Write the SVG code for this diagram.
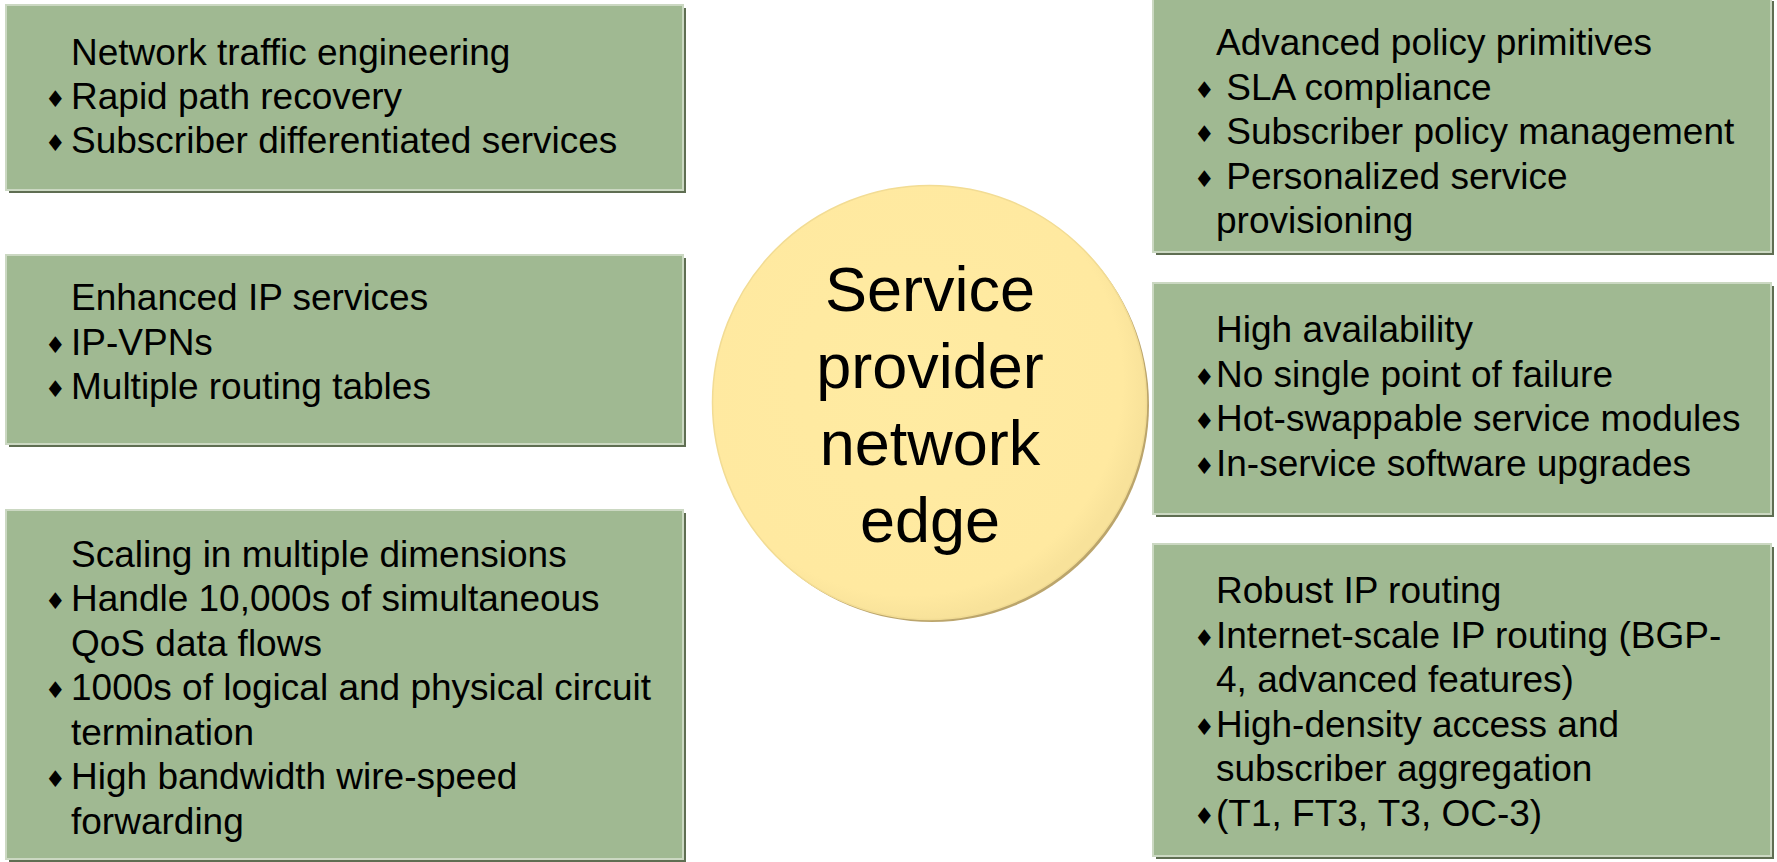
<svg xmlns="http://www.w3.org/2000/svg" width="1777" height="862" viewBox="0 0 1777 862">
<style>
.sh{fill:#5f6e52}
.bx{fill:#a0b992;stroke:#cbd8c2;stroke-width:2}
.t{font-family:"Liberation Sans",Arial,sans-serif;font-size:37px;fill:#000;white-space:pre}
.b{font-family:"DejaVu Sans",sans-serif;font-size:23px;fill:#000}
.c{font-family:"Liberation Sans",Arial,sans-serif;font-size:63px;fill:#000;text-anchor:middle}
</style>
<defs>
<radialGradient id="cg" cx="0.45" cy="0.45" r="0.55">
<stop offset="0" stop-color="#ffeba2"/>
<stop offset="0.9" stop-color="#ffe9a0"/>
<stop offset="1" stop-color="#f8e29a"/>
</radialGradient>
</defs>
<g id="connectors"></g>
<g id="center">
<circle cx="932" cy="405" r="217" fill="#bba56c"/>
<circle cx="929.5" cy="402.5" r="217" fill="url(#cg)" stroke="#f2dc94" stroke-width="1.5"/>
<text class="c" x="930" y="311">Service</text>
<text class="c" x="930" y="388">provider</text>
<text class="c" x="930" y="465">network</text>
<text class="c" x="930" y="542">edge</text>
</g>
<g id="box-tl">
<rect class="sh" x="9" y="8" width="677" height="185"/>
<rect class="bx" x="6" y="5" width="677" height="185"/>
<text class="t" x="71" y="65">Network traffic engineering</text>
<text class="b" x="45" y="107">♦</text><text class="t" x="71" y="109">Rapid path recovery</text>
<text class="b" x="45" y="151">♦</text><text class="t" x="71" y="153">Subscriber differentiated services</text>
</g>
<g id="box-ml">
<rect class="sh" x="9" y="258" width="677" height="189"/>
<rect class="bx" x="6" y="255" width="677" height="189"/>
<text class="t" x="71" y="310">Enhanced IP services</text>
<text class="b" x="45" y="353">♦</text><text class="t" x="71" y="355">IP-VPNs</text>
<text class="b" x="45" y="397">♦</text><text class="t" x="71" y="399">Multiple routing tables</text>
</g>
<g id="box-bl">
<rect class="sh" x="9" y="513" width="677" height="349"/>
<rect class="bx" x="6" y="510" width="677" height="349"/>
<text class="t" x="71" y="567">Scaling in multiple dimensions</text>
<text class="b" x="45" y="609">♦</text><text class="t" x="71" y="611">Handle 10,000s of simultaneous</text>
<text class="t" x="71" y="656">QoS data flows</text>
<text class="b" x="45" y="698">♦</text><text class="t" x="71" y="700">1000s of logical and physical circuit</text>
<text class="t" x="71" y="745">termination</text>
<text class="b" x="45" y="787">♦</text><text class="t" x="71" y="789">High bandwidth wire-speed</text>
<text class="t" x="71" y="834">forwarding</text>
</g>
<g id="box-tr">
<rect class="sh" x="1156" y="1" width="618" height="254"/>
<rect class="bx" x="1153" y="-2" width="618" height="254"/>
<text class="t" x="1216" y="55">Advanced policy primitives</text>
<text class="b" x="1194" y="98">♦</text><text class="t" x="1216" y="100" xml:space="preserve"> SLA compliance</text>
<text class="b" x="1194" y="142">♦</text><text class="t" x="1216" y="144" xml:space="preserve"> Subscriber policy management</text>
<text class="b" x="1194" y="187">♦</text><text class="t" x="1216" y="189" xml:space="preserve"> Personalized service</text>
<text class="t" x="1216" y="233">provisioning</text>
</g>
<g id="box-mr">
<rect class="sh" x="1156" y="286" width="618" height="231"/>
<rect class="bx" x="1153" y="283" width="618" height="231"/>
<text class="t" x="1216" y="342">High availability</text>
<text class="b" x="1194" y="385">♦</text><text class="t" x="1216" y="387">No single point of failure</text>
<text class="b" x="1194" y="429">♦</text><text class="t" x="1216" y="431">Hot-swappable service modules</text>
<text class="b" x="1194" y="474">♦</text><text class="t" x="1216" y="476">In-service software upgrades</text>
</g>
<g id="box-br">
<rect class="sh" x="1156" y="547" width="618" height="312"/>
<rect class="bx" x="1153" y="544" width="618" height="312"/>
<text class="t" x="1216" y="603">Robust IP routing</text>
<text class="b" x="1194" y="646">♦</text><text class="t" x="1216" y="648">Internet-scale IP routing (BGP-</text>
<text class="t" x="1216" y="692">4, advanced features)</text>
<text class="b" x="1194" y="735">♦</text><text class="t" x="1216" y="737">High-density access and</text>
<text class="t" x="1216" y="781">subscriber aggregation</text>
<text class="b" x="1194" y="824">♦</text><text class="t" x="1216" y="826">(T1, FT3, T3, OC-3)</text>
</g>
</svg>
